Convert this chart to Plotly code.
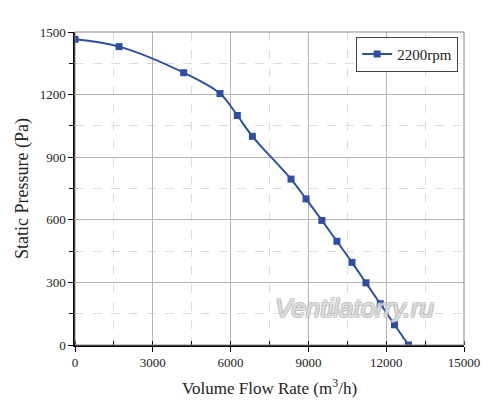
import plotly.graph_objects as go

flow_rate = [0, 1700, 4190, 5590, 6260, 6840, 8330, 8910, 9520, 10100, 10680, 11220, 11770, 12320, 12860]
static_pressure = [1465, 1430, 1305, 1205, 1100, 1000, 795, 700, 597, 497, 396, 298, 198, 97, 0]
series_name = "2200rpm"

blue = "#2c4fa3"
serif = "Liberation Serif, Times New Roman, serif"

fig = go.Figure()
fig.add_trace(go.Scatter(
    x=flow_rate, y=static_pressure, name=series_name,
    mode="lines+markers",
    line=dict(color=blue, width=2, shape="spline", smoothing=1.0),
    marker=dict(symbol="square", size=7, color=blue),
))

axis_common = dict(
    showline=True, linecolor="black", linewidth=1.5, mirror=False,
    showgrid=True, gridcolor="#b5b5b5", gridwidth=1,
    ticks="outside", ticklen=5, tickcolor="black",
    tickfont=dict(family=serif, size=13, color="#222"),
    zeroline=False, automargin=False, tickformat="d",
)

# page body adds an 8px offset, so margins are shifted to compensate
fig.update_layout(
    width=500, height=418,
    margin=dict(l=67, r=44, t=24, b=81),
    paper_bgcolor="white", plot_bgcolor="white",
    font=dict(family=serif, color="#222"),
    showlegend=True,
    legend=dict(
        x=0.985, y=0.985, xanchor="right", yanchor="top",
        bgcolor="white", bordercolor="#444", borderwidth=1,
        font=dict(family=serif, size=15, color="#222"),
    ),
    xaxis=dict(
        axis_common, range=[0, 15000], dtick=3000,
        minor=dict(dtick=1500, showgrid=True, gridcolor="#dcdcdc", griddash="dash",
                   ticks="inside", ticklen=4, tickcolor="black"),
        title=dict(text="Volume Flow Rate (m<sup>3</sup>/h)",
                   font=dict(family=serif, size=17, color="#222"), standoff=13),
    ),
    yaxis=dict(
        axis_common, range=[0, 1500], dtick=300,
        minor=dict(dtick=150, showgrid=True, gridcolor="#dcdcdc", griddash="dash",
                   ticks="outside", ticklen=4, tickcolor="black"),
        title=dict(text="Static Pressure (Pa)",
                   font=dict(family=serif, size=18, color="#222"), standoff=6),
    ),
    shapes=[dict(type="rect", xref="paper", yref="paper", x0=0, y0=0, x1=1, y1=1,
                 line=dict(color="#888", width=1), layer="above")],
    annotations=[dict(
        text="<i>Ventilatorry.ru</i>", x=0.718, y=0.118, xref="paper", yref="paper",
        xanchor="center", yanchor="middle", showarrow=False,
        font=dict(family="Liberation Sans, Arial, sans-serif", size=26,
                  color="rgba(255,255,255,0.55)",
                  shadow="1px 1px 0 #a8a8a8, -1px -1px 0 #a8a8a8, 1px -1px 0 #a8a8a8, -1px 1px 0 #a8a8a8"),
    )],
)

fig.write_html("out.html")
